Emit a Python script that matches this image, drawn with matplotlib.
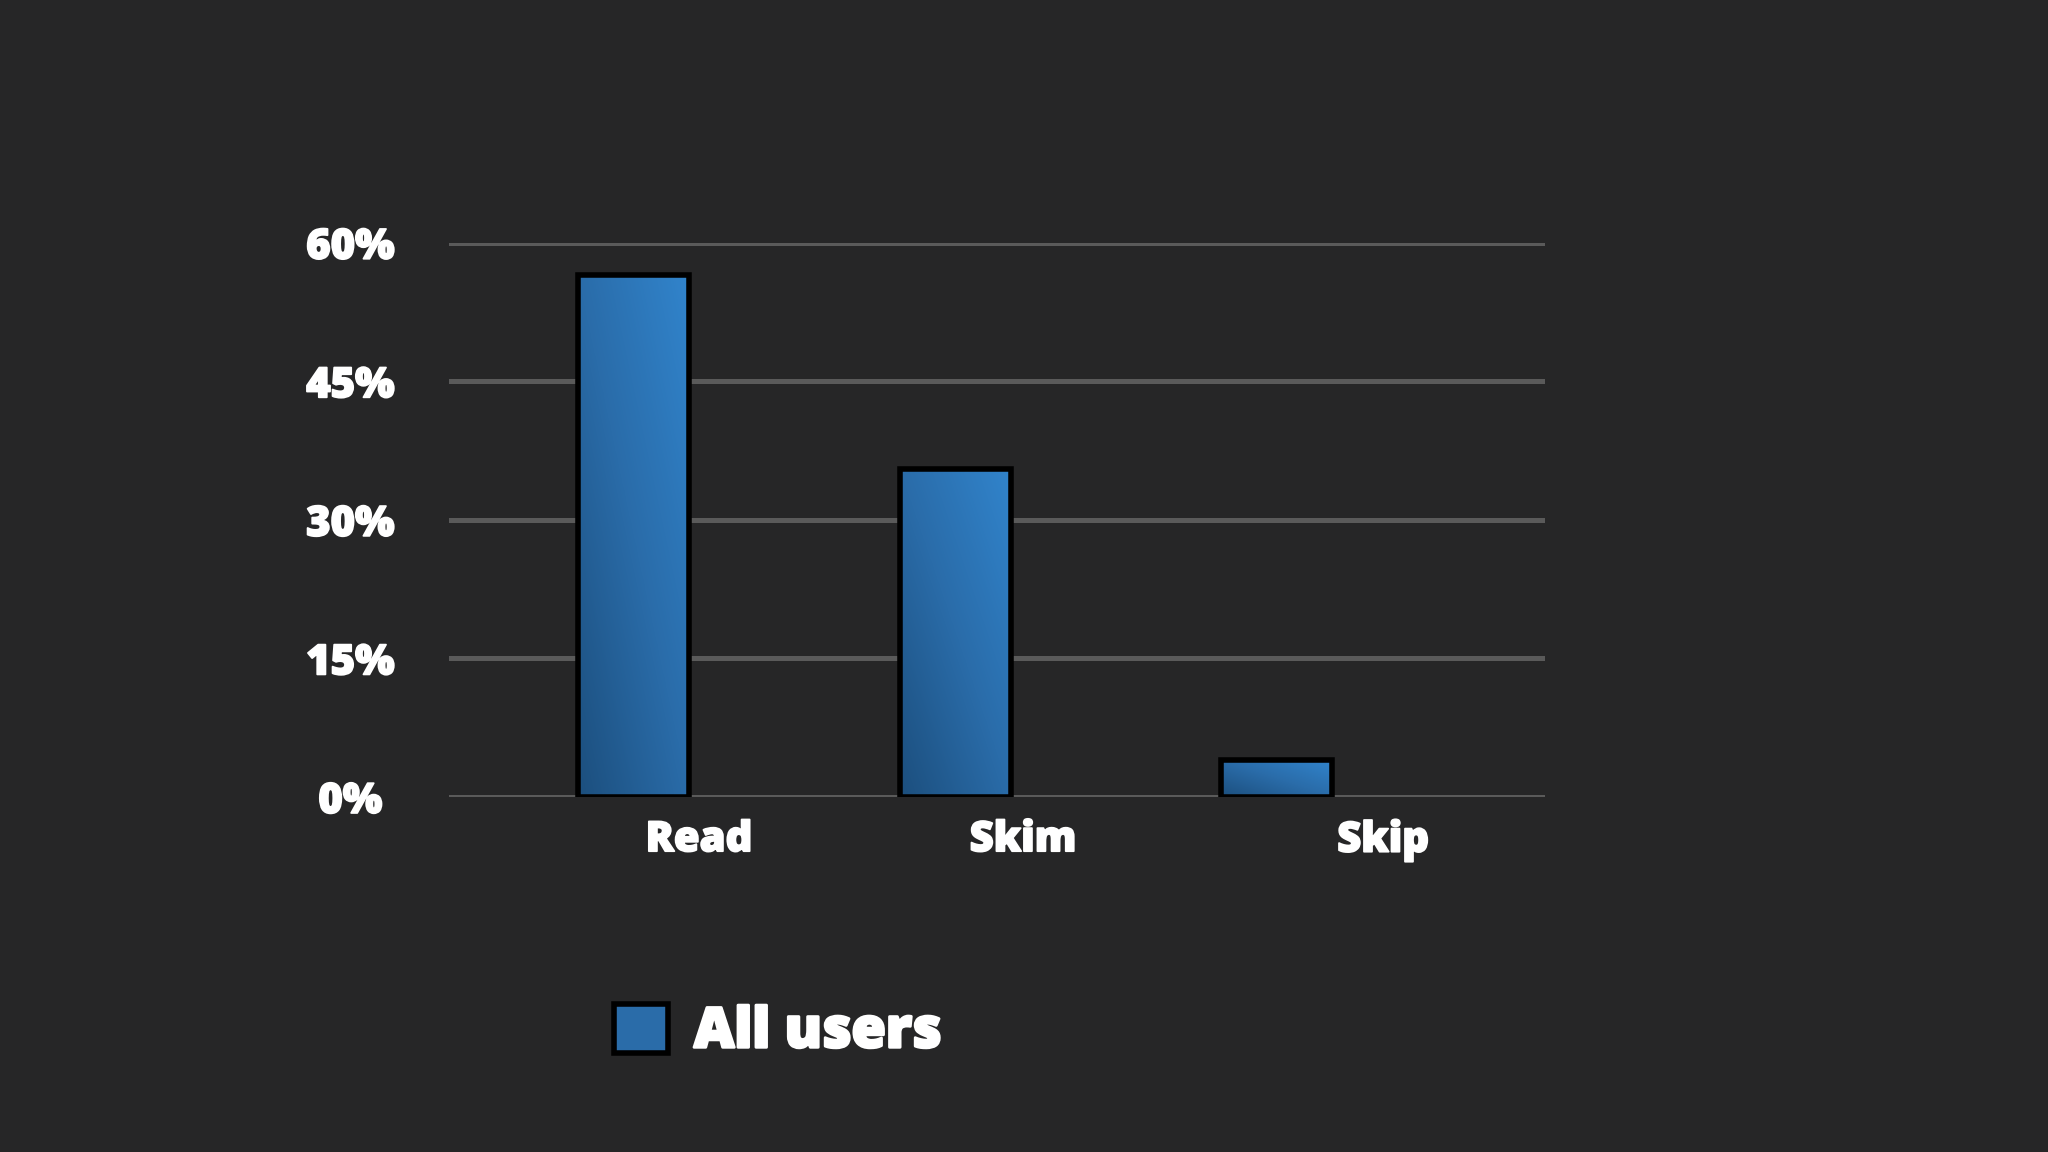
import matplotlib.pyplot as plt
import matplotlib.patheffects as pe
import numpy as np
from matplotlib.colors import LinearSegmentedColormap
from matplotlib.patches import Patch

categories = ['Read', 'Skim', 'Skip']
values = [56.5, 35.5, 4]
y_ticks = [0, 15, 30, 45, 60]
y_tick_labels = ['0%', '15%', '30%', '45%', '60%']
series_name = 'All users'

bg = '#262627'
plt.rcParams['font.family'] = ['Open Sans', 'DejaVu Sans']
heavy = [pe.withStroke(linewidth=1.3, foreground='white')]

fig = plt.figure(figsize=(20.48, 11.52), dpi=100, facecolor=bg)
ax = fig.add_axes([0.2192, 0.3082, 0.5352, 0.4811], facecolor=bg)

x = np.arange(len(categories))
bar_w = 0.345
bars = ax.bar(x, values, width=bar_w, color='none', edgecolor='black',
              linewidth=4, zorder=3)

# gradient fill, darker at bottom-left, lighter at top-right
cmap = LinearSegmentedColormap.from_list('blu', ['#1c4f7e', '#2a6ca9', '#3184cc'])
u, v = np.meshgrid(np.linspace(0, 1, 64), np.linspace(0, 1, 64))
grad = (u + v) / 2
for b in bars:
    x0, y0 = b.get_x(), b.get_y()
    im = ax.imshow(grad, extent=[x0, x0 + b.get_width(), y0, y0 + b.get_height()],
                   origin='lower', cmap=cmap, aspect='auto', zorder=2.5,
                   interpolation='bilinear')
    im.set_clip_path(b)

ax.set_xlim(-0.573, 2.833)
ax.set_ylim(0, 60)

ax.set_yticks(y_ticks)
ax.set_yticklabels(y_tick_labels)
ax.yaxis.grid(True, color='#5a5a5a', linewidth=3.6, zorder=1)
ax.set_axisbelow(True)

# category labels sit a bit right of their bars
label_offsets = [0.204, 0.211, 0.33]
ax.set_xticks(x + np.array(label_offsets))
ax.set_xticklabels(categories)

ax.tick_params(axis='both', length=0, colors='white', labelsize=30)
ax.tick_params(axis='y', pad=71)
ax.tick_params(axis='x', pad=16)
for lbl in ax.get_yticklabels():
    lbl.set_horizontalalignment('center')
    lbl.set_fontweight('heavy')
    lbl.set_path_effects(heavy)
for lbl in ax.get_xticklabels():
    lbl.set_fontweight('heavy')
    lbl.set_path_effects(heavy)

for s in ax.spines.values():
    s.set_visible(False)

handle = Patch(facecolor='#2a6ca9', edgecolor='black', linewidth=4)
leg = fig.legend([handle], [series_name], loc='center left',
                 bbox_to_anchor=(0.2998, 0.1037), frameon=False,
                 borderpad=0, borderaxespad=0, handlelength=0.98, handleheight=0.98,
                 handletextpad=0.46,
                 prop={'size': 40, 'weight': 'heavy'}, labelcolor='white')
for t in leg.get_texts():
    t.set_path_effects([pe.withStroke(linewidth=2, foreground='white')])

fig.savefig('out.png', facecolor=bg)
